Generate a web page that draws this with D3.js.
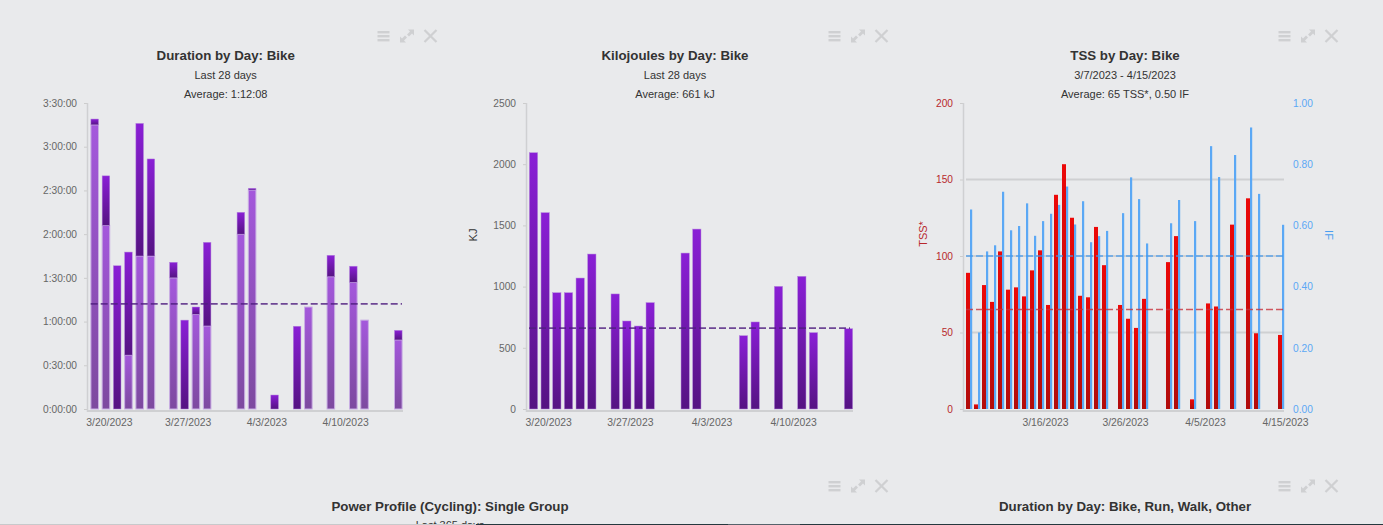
<!DOCTYPE html>
<html lang="en">
<head>
<meta charset="utf-8">
<title>Cycling dashboard</title>
<script src="https://cdn.jsdelivr.net/npm/d3@7"></script>
<style>
  html, body { margin: 0; padding: 0; background: #e9eaec; overflow: hidden; }
  svg { display: block; }
  text { font-family: "Liberation Sans", Arial, sans-serif; }
</style>
</head>
<body>
<svg id="page" width="1383" height="525"></svg>
<script>
// last 28 days, day offset from 3/19/2023
var durationDays = [0, 1, 2, 3, 4, 5, 7, 8, 9, 10, 13, 14, 16, 18, 19, 21, 23, 24, 27];
// minutes: lighter lower part and darker upper part of each bar
var durationLower = [195, 126, 0, 37, 105, 105, 90, 0, 65, 57, 120, 150.3, 0, 0, 70, 90.8, 87, 61, 47.4];
var durationUpper = [4, 34, 98.3, 70.7, 91, 66.6, 10.7, 61, 5, 57.4, 15, 1.2, 9.6, 56.8, 0, 14.7, 11, 0, 6.6];
var durationAvg = 72.13;
var durationTicks = [0, 30, 60, 90, 120, 150, 180, 210];
var durationLabels = ["0:00:00", "0:30:00", "1:00:00", "1:30:00", "2:00:00", "2:30:00", "3:00:00", "3:30:00"];

var kjDays = [0, 1, 2, 3, 4, 5, 7, 8, 9, 10, 13, 14, 18, 19, 21, 23, 24, 27];
var kjValues = [2094, 1604, 950, 950, 1070, 1266, 940, 719, 678, 869, 1274, 1470, 599, 711, 1002, 1084, 624, 656];
var kjAvg = 661;
var kjTicks = [0, 500, 1000, 1500, 2000, 2500];

// 40 days, day offset from 3/7/2023
var tssDays = [0, 1, 2, 3, 4, 5, 6, 7, 8, 9, 10, 11, 12, 13, 14, 15, 16, 17, 19, 20, 21, 22, 25, 26, 28, 30, 31, 33, 35, 36, 39];
var tssValues = [89, 3, 81, 70, 103, 78, 79.5, 73.6, 90.6, 103.7, 68, 140, 160, 125, 74, 73, 119, 94, 68, 59, 53, 72, 96, 113, 6.3, 69, 67, 120.5, 137.7, 49.5, 48.4];
var ifValues = [0.652, 0.25, 0.515, 0.535, 0.71, 0.584, 0.598, 0.672, 0.566, 0.614, 0.638, 0.667, 0.727, 0.603, 0.679, 0.545, 0.565, 0.582, 0.64, 0.757, 0.686, 0.541, 0.607, 0.683, 0.614, 0.859, 0.758, 0.83, 0.92, 0.703, 0.602];
var tssAvg = 65;
var ifAvg = 0.5;
var tssTicks = [0, 50, 100, 150, 200];
var tssGrid = [50, 100, 150];
var ifTicks = [0, 0.2, 0.4, 0.6, 0.8, 1];

var days28Ticks = ["3/20/2023", "3/27/2023", "4/3/2023", "4/10/2023"];
var days28TickDays = [1, 8, 15, 22];
var days40Ticks = ["3/16/2023", "3/26/2023", "4/5/2023", "4/15/2023"];
var days40TickDays = [9, 19, 29, 39];

var bottomPanels = [
    {title: "Power Profile (Cycling): Single Group", sub: "Last 365 days", cx: 450},
    {title: "Duration by Day: Bike, Run, Walk, Other", sub: "", cx: 1125}
];

var svg = d3.select("#page");
var defs = svg.append("defs");

function gradient(id, top, bottom) {
    var g = defs.append("linearGradient").attr("id", id)
        .attr("x1", 0).attr("y1", 0).attr("x2", 0).attr("y2", 1);
    g.append("stop").attr("offset", 0).attr("stop-color", top);
    g.append("stop").attr("offset", 1).attr("stop-color", bottom);
}
gradient("purple", "#8a1fd6", "#551382");
gradient("purpleLight", "#a458dc", "#7d4a9f");
gradient("red", "#ec0808", "#b00c0c");

function panelText(cx, title, sub, avg) {
    svg.append("text").attr("x", cx).attr("y", 60).attr("text-anchor", "middle")
        .attr("font-size", 13.3).attr("font-weight", "bold").attr("fill", "#333").text(title);
    svg.append("text").attr("x", cx).attr("y", 79).attr("text-anchor", "middle")
        .attr("font-size", 11).attr("fill", "#333").text(sub);
    svg.append("text").attr("x", cx).attr("y", 98).attr("text-anchor", "middle")
        .attr("font-size", 11).attr("fill", "#333").text(avg);
}

function icons(x, y) {
    var g = svg.append("g").attr("transform", "translate(" + x + "," + y + ")")
        .attr("fill", "#cfd0d2").attr("stroke", "#cfd0d2");
    [-5, -1, 3].forEach(function (d) {
        g.append("rect").attr("x", -6).attr("y", d).attr("width", 12).attr("height", 2.4).attr("stroke", "none");
    });
    var e = g.append("g").attr("transform", "translate(23.5,0)");
    e.append("path").attr("stroke", "none").attr("d", "M1,-6.5 H7 V-0.5 L5,-2.5 L2,0.5 L0,-1.5 L3,-4.5 Z");
    e.append("path").attr("stroke", "none").attr("d", "M-1,6.5 H-7 V0.5 L-5,2.5 L-2,-0.5 L0,1.5 L-3,4.5 Z");
    g.append("path").attr("fill", "none").attr("stroke-width", 2.2)
        .attr("d", "M41,-6 L53,6 M53,-6 L41,6");
}

function yAxisLeft(y, ticks, format, x, color) {
    var g = svg.append("g").attr("transform", "translate(" + x + ",0)")
        .call(d3.axisLeft(y).tickValues(ticks).tickFormat(format).tickSize(3).tickPadding(7));
    g.select(".domain").remove();
    g.selectAll("line").attr("stroke", "#ccc");
    g.selectAll("text").attr("font-size", 10.2).attr("font-family", "'Liberation Sans', Arial, sans-serif").attr("fill", color);
    svg.append("line").attr("x1", x + 0.5).attr("x2", x + 0.5).attr("y1", 103).attr("y2", 412)
        .attr("stroke", "#cfd0d2").attr("stroke-width", 1.5);
    return g;
}

function dateAxis(x, tickDays, labels, y, dx) {
    var g = svg.append("g").attr("transform", "translate(" + dx + "," + y + ")")
        .call(d3.axisBottom(x).tickValues(tickDays).tickFormat(function (d, i) { return labels[i]; }).tickSize(0).tickPadding(6));
    g.select(".domain").remove();
    g.selectAll("text").attr("font-size", 10.4).attr("font-family", "'Liberation Sans', Arial, sans-serif").attr("fill", "#666");
}

function baseline(x1, x2) {
    svg.append("line").attr("x1", x1).attr("x2", x2).attr("y1", 411).attr("y2", 411)
        .attr("stroke", "#cfd0d2").attr("stroke-width", 2);
}

function avgLine(x1, x2, y, color) {
    svg.append("line").attr("x1", x1).attr("x2", x2).attr("y1", y).attr("y2", y)
        .attr("stroke", color).attr("stroke-width", 1.6).attr("stroke-opacity", 0.8).attr("stroke-dasharray", "7 3");
}

function rotated(x, y, angle, label, color) {
    svg.append("text").attr("transform", "translate(" + x + "," + y + ") rotate(" + angle + ")")
        .attr("text-anchor", "middle").attr("font-size", 11).attr("fill", color).text(label);
}

// Duration by Day
(function () {
    var x = d3.scaleLinear().domain([0, 27]).range([94.7, 398.3]);
    var y = d3.scaleLinear().domain([0, 210]).range([409, 103]);
    var w = 7.6;
    panelText(225.7, "Duration by Day: Bike", "Last 28 days", "Average: 1:12:08");
    icons(383.5, 36);
    yAxisLeft(y, durationTicks, function (d, i) { return durationLabels[i]; }, 87, "#666");
    baseline(87, 403);
    dateAxis(x, days28TickDays, days28Ticks, 413, 3);

    var rows = durationDays.map(function (d, i) {
        return {day: d, lower: durationLower[i], upper: durationUpper[i]};
    });
    var stack = d3.stack().keys(["lower", "upper"])(rows);
    var fills = ["url(#purpleLight)", "url(#purple)"];
    var strokes = ["#c9aee4", "#b487dc"];
    var widths = [1, 0.5];
    stack.forEach(function (layer, k) {
        svg.append("g").selectAll("rect").data(layer.filter(function (d) { return d[1] - d[0] > 0; })).enter().append("rect")
            .attr("x", function (d) { return x(d.data.day) - w / 2; })
            .attr("width", w)
            .attr("y", function (d) { return y(d[1]); })
            .attr("height", function (d) { return y(d[0]) - y(d[1]); })
            .attr("fill", fills[k])
            .attr("stroke", strokes[k]).attr("stroke-width", widths[k]);
    });
    avgLine(90.7, 402, y(durationAvg), "#4f1d80");
})();

// Kilojoules by Day
(function () {
    var x = d3.scaleLinear().domain([0, 27]).range([533.5, 848.5]);
    var y = d3.scaleLinear().domain([0, 2500]).range([409, 103]);
    var w = 8.3;
    panelText(675, "Kilojoules by Day: Bike", "Last 28 days", "Average: 661 kJ");
    icons(834.5, 36);
    yAxisLeft(y, kjTicks, function (d) { return d; }, 526, "#666");
    baseline(526, 853);
    dateAxis(x, days28TickDays, days28Ticks, 413, 3);
    rotated(477, 235, -90, "KJ", "#333");

    svg.append("g").selectAll("rect").data(kjValues).enter().append("rect")
        .attr("x", function (d, i) { return x(kjDays[i]) - w / 2; })
        .attr("width", w)
        .attr("y", function (d) { return y(d); })
        .attr("height", function (d) { return y(0) - y(d); })
        .attr("fill", "url(#purple)")
        .attr("stroke", "#b487dc").attr("stroke-width", 0.5);
    avgLine(529, 850, y(kjAvg), "#4f1d80");
})();

// TSS by Day
(function () {
    var x = d3.scaleLinear().domain([0, 39]).range([970, 1282]);
    var yTss = d3.scaleLinear().domain([0, 200]).range([409, 103]);
    var yIf = d3.scaleLinear().domain([0, 1]).range([409, 103]);
    var tssColor = "#b8282c", ifColor = "#5ba8f5";

    panelText(1125, "TSS by Day: Bike", "3/7/2023 - 4/15/2023", "Average: 65 TSS*, 0.50 IF");
    icons(1284.5, 36);

    svg.append("g").selectAll("line").data(tssGrid).enter().append("line")
        .attr("x1", 966).attr("x2", 1284)
        .attr("y1", function (d) { return yTss(d); }).attr("y2", function (d) { return yTss(d); })
        .attr("stroke", "#cfd0d2").attr("stroke-width", 1.8);

    yAxisLeft(yTss, tssTicks, function (d) { return d; }, 963, tssColor);
    var right = svg.append("g").attr("transform", "translate(1285,0)")
        .call(d3.axisRight(yIf).tickValues(ifTicks).tickFormat(d3.format(".2f")).tickSize(0).tickPadding(8));
    right.select(".domain").remove();
    right.selectAll("text").attr("font-size", 10.2).attr("font-family", "'Liberation Sans', Arial, sans-serif").attr("fill", ifColor);
    baseline(963, 1284);
    dateAxis(x, days40TickDays, days40Ticks, 413, 3);

    rotated(927, 234, -90, "TSS*", tssColor);
    rotated(1325, 235, 90, "IF", "#4a9ff0");

    svg.append("g").selectAll("rect").data(ifValues).enter().append("rect")
        .attr("x", function (d, i) { return x(tssDays[i]); })
        .attr("width", 2.2)
        .attr("y", function (d) { return yIf(d); })
        .attr("height", function (d) { return yIf(0) - yIf(d); })
        .attr("fill", "#5ba8f5");
    svg.append("g").selectAll("rect").data(tssValues).enter().append("rect")
        .attr("x", function (d, i) { return x(tssDays[i]) - 4; })
        .attr("width", 4)
        .attr("y", function (d) { return yTss(d); })
        .attr("height", function (d) { return yTss(0) - yTss(d); })
        .attr("fill", "url(#red)");
    avgLine(966, 1284, yIf(ifAvg), "#3f98ee");
    avgLine(966, 1284, yTss(tssAvg), "#c8323c");
})();

// next row of panels, cut off by the window
bottomPanels.forEach(function (p) {
    svg.append("text").attr("x", p.cx).attr("y", 511).attr("text-anchor", "middle")
        .attr("font-size", 13.3).attr("font-weight", "bold").attr("fill", "#333").text(p.title);
    if (p.sub) {
        svg.append("text").attr("x", p.cx).attr("y", 529).attr("text-anchor", "middle")
            .attr("font-size", 11).attr("fill", "#333").text(p.sub);
    }
});
icons(834.5, 486);
icons(1284.5, 486);

// edge of the frame below the panels, one pixel at the window's bottom
svg.append("rect").attr("x", 0).attr("y", 524).attr("width", 476).attr("height", 1).attr("fill", "#c8c9cb");
svg.append("rect").attr("x", 476).attr("y", 524).attr("width", 252).attr("height", 1).attr("fill", "#25383e");
svg.append("rect").attr("x", 728).attr("y", 524).attr("width", 72).attr("height", 1).attr("fill", "#55626a");
svg.append("rect").attr("x", 800).attr("y", 524).attr("width", 583).attr("height", 1).attr("fill", "#25383e");
</script>
</body>
</html>
